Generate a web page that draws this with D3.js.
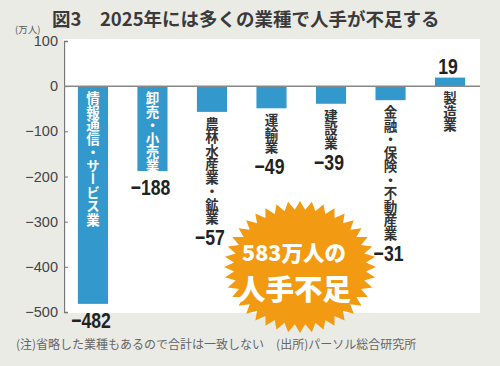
<!DOCTYPE html>
<html>
<head>
<meta charset="utf-8">
<script src="https://cdn.jsdelivr.net/npm/d3@7"></script>
<style>
  body { margin: 0; background: #ebebe6; }
  svg { display: block; }
</style>
</head>
<body>
<div id="chart"></div>
<script>
var categories = ["情報通信・サービス業", "卸売・小売業", "農林水産業・鉱業", "運輸業", "建設業", "金融・保険・不動産業", "製造業"];
var values = [-482, -188, -57, -49, -39, -31, 19];
var insideLabel = [true, true, false, false, false, false, false];
var yTicks = [100, 0, -100, -200, -300, -400, -500];
var titleText = "図3　2025年には多くの業種で人手が不足する";
var unitText = "(万人)";
var noteText = "(注)省略した業種もあるので合計は一致しない　(出所)パーソル総合研究所";
var badgeLines = ["583万人の", "人手不足"];

var width = 500, height = 366;
var jp = "'Noto Sans CJK JP', sans-serif";
var numFont = "'Liberation Sans', Arial, sans-serif";

var svg = d3.select("#chart").append("svg")
    .attr("width", width)
    .attr("height", height);

svg.append("rect").attr("width", width).attr("height", height).attr("fill", "#ebebe6");

var x = d3.scaleBand()
    .domain(categories)
    .range([63, 480])
    .paddingInner(0.494)
    .paddingOuter(0.25);

var y = d3.scaleLinear()
    .domain([-500, 100])
    .range([312, 41]);

// white plot panel
svg.append("rect")
    .attr("x", 63).attr("y", 39)
    .attr("width", 417).attr("height", y(-500) - 39 + 1)
    .attr("fill", "#ffffff");

// title
svg.append("text")
    .attr("x", 52).attr("y", 26)
    .attr("font-family", jp).attr("font-size", 18.5).attr("font-weight", 700)
    .attr("fill", "#3a3a3a")
    .text(titleText);

svg.append("text")
    .attr("x", 15).attr("y", 33)
    .attr("font-family", jp).attr("font-size", 9.5)
    .attr("fill", "#555")
    .text(unitText);

// axis
var axis = d3.axisLeft(y)
    .tickValues(yTicks)
    .tickSizeInner(-4)
    .tickSizeOuter(-4)
    .tickPadding(6);

var gAxis = svg.append("g")
    .attr("transform", "translate(64,0)")
    .call(axis);
gAxis.select(".domain").attr("stroke", "#777").attr("stroke-width", 1.3);
gAxis.selectAll(".tick line").attr("stroke", "#777");
gAxis.selectAll(".tick text")
    .attr("font-family", "'Liberation Sans', Arial, sans-serif")
    .attr("font-size", 14.5)
    .attr("fill", "#444");

// bars
svg.selectAll(".bar")
    .data(values)
    .enter().append("rect")
    .attr("class", "bar")
    .attr("x", function(d, i) { return x(categories[i]); })
    .attr("y", function(d) { return y(Math.max(0, d)); })
    .attr("width", x.bandwidth())
    .attr("height", function(d) { return Math.abs(y(d) - y(0)); })
    .attr("fill", "#3399cc");

// zero line
svg.append("line")
    .attr("x1", 64).attr("x2", 480)
    .attr("y1", y(0)).attr("y2", y(0))
    .attr("stroke", "#888").attr("stroke-width", 1.5);

// category labels (vertical) and value labels
categories.forEach(function(c, i) {
    var v = values[i];
    var cx = x(c) + x.bandwidth() / 2;
    var startY = v < 0 ? (insideLabel[i] ? y(0) + 5 : y(v) + 5) : y(0) + 5;
    var lab = svg.append("text")
        .attr("x", cx).attr("y", startY)
        .attr("writing-mode", "tb")
        .attr("font-family", jp).attr("font-size", 13.5).attr("font-weight", 700)
        .attr("fill", insideLabel[i] ? "#ffffff" : "#333")
        .text(c);

    var valY;
    if (v > 0) {
        valY = y(v) - 4;
    } else if (insideLabel[i]) {
        valY = y(v) + 24;
    } else {
        var bb = lab.node().getBBox();
        valY = bb.y + bb.height + 19;
    }
    svg.append("text")
        .attr("transform", "translate(" + (cx - 2) + "," + valY + ") scale(0.8,1)")
        .attr("text-anchor", "middle")
        .attr("font-family", numFont).attr("font-size", 22).attr("font-weight", 700)
        .attr("fill", "#222")
        .text(v < 0 ? "−" + Math.abs(v) : String(v));
});

// starburst badge
var bx = 300, by = 267, rx = 76, ry = 66, spikes = 40, inner = 0.87;
var pts = d3.range(spikes * 2).map(function(k) {
    var a = k * Math.PI / spikes;
    var r = k % 2 === 0 ? 1 : inner;
    return [bx + Math.cos(a) * rx * r, by + Math.sin(a) * ry * r];
});
svg.append("path")
    .attr("d", d3.line()(pts) + "Z")
    .attr("fill", "#f29b12");

svg.append("text")
    .attr("x", bx - 6).attr("y", by - 6)
    .attr("text-anchor", "middle")
    .attr("font-family", jp).attr("font-size", 21.5).attr("font-weight", 900)
    .attr("fill", "#ffffff")
    .text(badgeLines[0]);
svg.append("text")
    .attr("x", bx - 6).attr("y", by + 33)
    .attr("text-anchor", "middle")
    .attr("font-family", jp).attr("font-size", 28.5).attr("font-weight", 900)
    .attr("fill", "#ffffff")
    .text(badgeLines[1]);

// note
svg.append("text")
    .attr("x", 16).attr("y", 349)
    .attr("font-family", jp).attr("font-size", 12)
    .attr("fill", "#666")
    .text(noteText);
</script>
</body>
</html>
